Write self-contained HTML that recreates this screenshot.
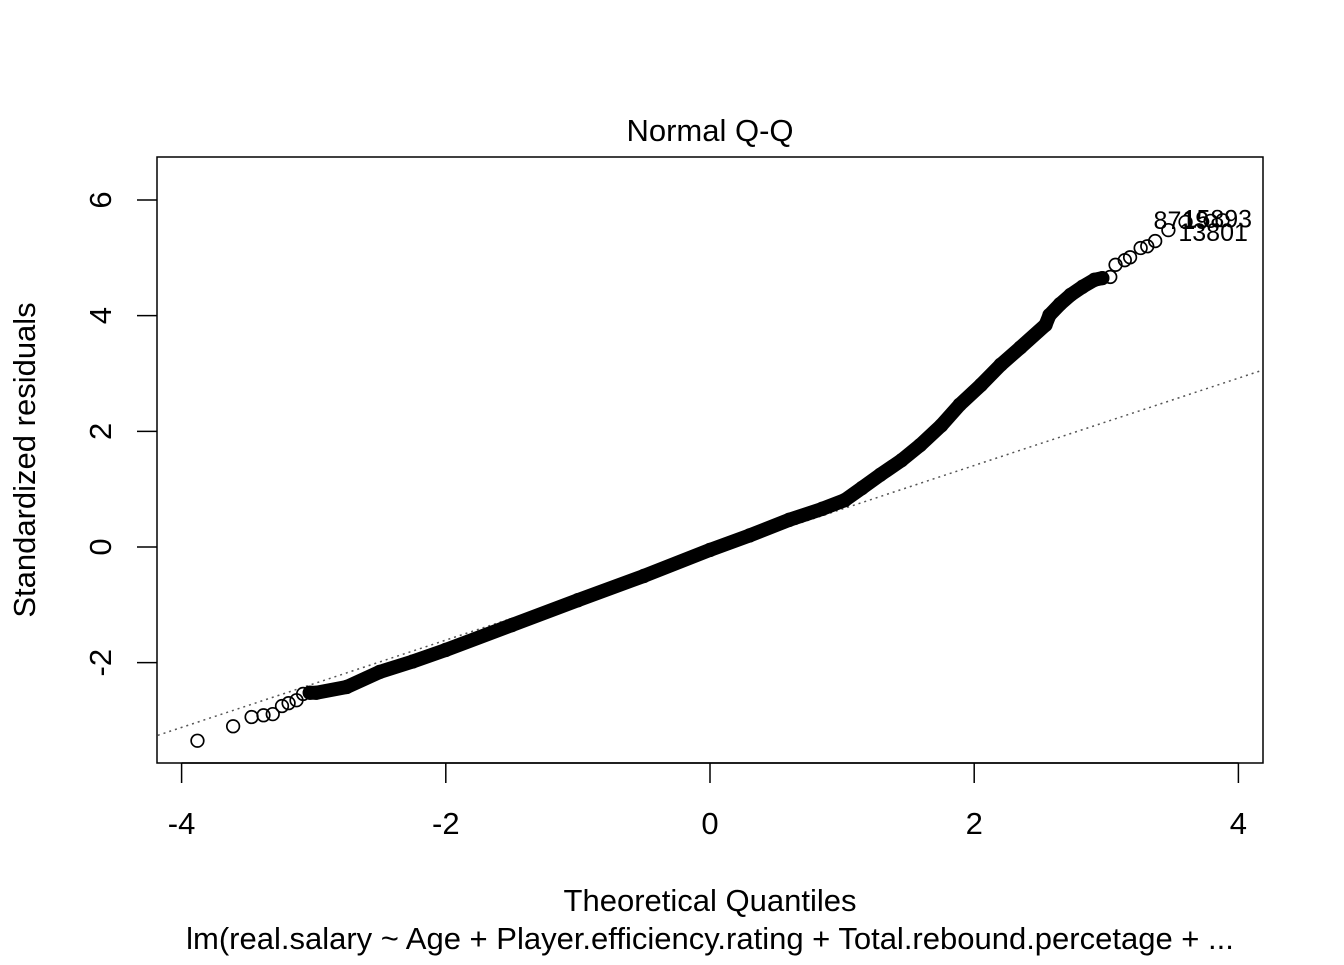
<!DOCTYPE html>
<html><head><meta charset="utf-8"><style>
body{margin:0;background:#fff}
svg text{font-family:"Liberation Sans",Arial,sans-serif;fill:#000}
</style></head><body>
<svg width="1344" height="960" xmlns="http://www.w3.org/2000/svg">
<text x="710" y="141" font-size="31" text-anchor="middle">Normal Q-Q</text>
<rect x="157" y="157" width="1106" height="606" fill="none" stroke="#000" stroke-width="1.5"/>
<g id="xaxis"></g>
<g id="yaxis"></g>
<g id="ref"></g>
<g id="pts"></g>
<g id="labs"></g>
<text x="710" y="911" font-size="31" text-anchor="middle">Theoretical Quantiles</text>
<text x="710" y="949" font-size="31" text-anchor="middle">lm(real.salary ~ Age + Player.efficiency.rating + Total.rebound.percetage + ...</text>
<text transform="translate(35,460) rotate(-90)" font-size="31" text-anchor="middle">Standardized residuals</text>
<script>
const xTicks=[-4,-2,0,2,4];
const yTicks=[-2,0,2,4,6];
const refIntercept=-0.1, refSlope=0.755;
const theo=[-3.88,-3.61,-3.47,-3.38,-3.31,-3.24,-3.19,-3.13,-3.08,-3.03,-2.98,-2.75,-2.5,-2.25,-2,-1.5,-1,-0.5,0,0.3,0.6,0.85,1.02,1.15,1.29,1.45,1.59,1.75,1.89,2.05,2.2,2.35,2.54,2.57,2.65,2.73,2.82,2.91,2.97,3.03,3.07,3.14,3.18,3.26,3.31,3.37,3.47,3.6,3.79,3.88];
const resid=[-3.35,-3.10,-2.94,-2.91,-2.89,-2.75,-2.70,-2.65,-2.54,-2.52,-2.52,-2.42,-2.16,-1.98,-1.78,-1.35,-0.92,-0.50,-0.05,0.20,0.47,0.66,0.81,1.02,1.25,1.50,1.76,2.10,2.46,2.80,3.15,3.45,3.84,4.01,4.20,4.36,4.50,4.62,4.65,4.67,4.88,4.96,5.01,5.17,5.20,5.29,5.48,5.62,5.64,5.65];
const labelText=["13801","8719","15893"];
const labelIdx=[46,47,49];
const NS="http://www.w3.org/2000/svg";
const X=v=>710+v*132.1, Y=v=>547-v*57.83;
function mk(t,a,p){const e=document.createElementNS(NS,t);for(const k in a)e.setAttribute(k,a[k]);p.appendChild(e);return e;}
const xa=document.getElementById('xaxis');
mk('line',{x1:X(-4),x2:X(4),y1:763,y2:763,stroke:'#000','stroke-width':1.5},xa);
xTicks.forEach(t=>{mk('line',{x1:X(t),x2:X(t),y1:763,y2:783,stroke:'#000','stroke-width':1.5},xa);
const tx=mk('text',{x:X(t),y:834,'font-size':31,'text-anchor':'middle'},xa);tx.textContent=t;

});
const ya=document.getElementById('yaxis');
yTicks.forEach(t=>{mk('line',{x1:137,x2:157,y1:Y(t),y2:Y(t),stroke:'#000','stroke-width':1.5},ya);
const tx=mk('text',{transform:`translate(111,${Y(t)}) rotate(-90)`,'font-size':31,'text-anchor':'middle'},ya);tx.textContent=t;

});
const r=document.getElementById('ref');
const x0=-4.18,x1=4.18;
mk('line',{x1:X(x0),x2:X(x1),y1:Y(refIntercept+refSlope*x0),y2:Y(refIntercept+refSlope*x1),stroke:'#555','stroke-width':1.5,'stroke-dasharray':'2 4'},r);
const pg=document.getElementById('pts');
const dense=[];for(let i=9;i<=38;i++)dense.push(X(theo[i])+','+Y(resid[i]));
const pl=mk('polyline',{points:dense.join(' '),fill:'none',stroke:'#000','stroke-width':14,'stroke-linejoin':'round','stroke-linecap':'round'},pg);


theo.forEach((t,i)=>{const c=mk('circle',{cx:X(t),cy:Y(resid[i]),r:6.3,fill:'none',stroke:'#000','stroke-width':1.7},pg);

});
const lg=document.getElementById('labs');
labelIdx.forEach((k,i)=>{const tx=mk('text',{x:X(theo[k])+(i==0?10:(i==1?-32:-40)),y:Y(resid[k])+(i==0?11:7),'font-size':25},lg);tx.textContent=labelText[i];

});
</script>
</svg>
</body></html>
